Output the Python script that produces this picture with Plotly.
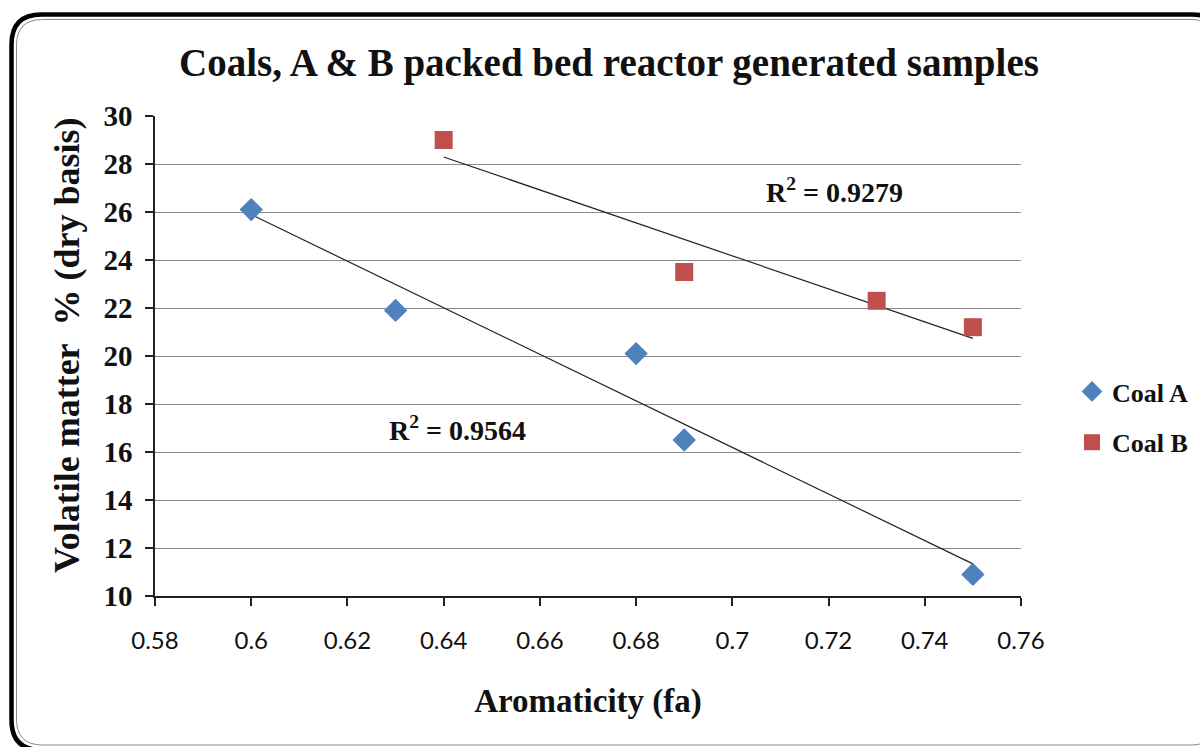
import numpy as np
import plotly.graph_objects as go

# Aromaticity (fa) and volatile matter (% dry basis) for each coal
coal_a_fa = [0.60, 0.63, 0.68, 0.69, 0.75]
coal_a_vm = [26.1, 21.9, 20.1, 16.5, 10.9]
coal_b_fa = [0.64, 0.69, 0.73, 0.75]
coal_b_vm = [29.0, 23.5, 22.3, 21.2]

r2_labels = {"Coal A": "R<sup>2</sup> = 0.9564", "Coal B": "R<sup>2</sup> = 0.9279"}

x_ticks = [0.58, 0.6, 0.62, 0.64, 0.66, 0.68, 0.7, 0.72, 0.74, 0.76]
y_ticks = list(range(10, 31, 2))

W, H = 1200, 747
ML, MR, MT, MB = 155, 179, 116, 151
PW, PH = W - ML - MR, H - MT - MB

SERIF = "Liberation Serif"
SANS = "Lato"


def trend(xs, ys):
    k, b = np.polyfit(xs, ys, 1)
    xe = np.array([min(xs), max(xs)])
    return xe, k * xe + b


fig = go.Figure()

for xs, ys in [(coal_a_fa, coal_a_vm), (coal_b_fa, coal_b_vm)]:
    tx, ty = trend(xs, ys)
    fig.add_trace(go.Scatter(x=tx, y=ty, mode="lines", showlegend=False,
                             line=dict(color="#222222", width=1.2), hoverinfo="skip"))

fig.add_trace(go.Scatter(x=coal_a_fa, y=coal_a_vm, mode="markers", name="Coal A",
                         legendgroup="a",
                         marker=dict(symbol="diamond", size=18, color="#4F81BD")))
fig.add_trace(go.Scatter(x=coal_b_fa, y=coal_b_vm, mode="markers", name="Coal B",
                         legendgroup="b",
                         marker=dict(symbol="square", size=18, color="#C0504D")))


def px(x):
    return (x - ML) / PW


def py(y):
    return (H - MB - y) / PH


def rounded_rect(x0, y0, x1, y1, r):
    pts = [
        f"M {px(x0 + r)} {py(y0)}",
        f"L {px(x1 - r)} {py(y0)}",
        f"Q {px(x1)} {py(y0)} {px(x1)} {py(y0 + r)}",
        f"L {px(x1)} {py(y1 - r)}",
        f"Q {px(x1)} {py(y1)} {px(x1 - r)} {py(y1)}",
        f"L {px(x0 + r)} {py(y1)}",
        f"Q {px(x0)} {py(y1)} {px(x0)} {py(y1 - r)}",
        f"L {px(x0)} {py(y0 + r)}",
        f"Q {px(x0)} {py(y0)} {px(x0 + r)} {py(y0)}",
        "Z",
    ]
    return " ".join(pts)


fig.add_shape(type="path", xref="paper", yref="paper",
              path=rounded_rect(11.5, 14.5, 1222, 750, 30),
              line=dict(color="#000000", width=4.5), layer="below")
fig.add_shape(type="path", xref="paper", yref="paper",
              path=rounded_rect(16.5, 19.5, 1217, 745, 26),
              line=dict(color="#8a8a8a", width=1), layer="below")

fig.add_annotation(x=0.7213, y=26.9, text=r2_labels["Coal B"], showarrow=False,
                   font=dict(family=SERIF, size=28, color="#111111", weight="bold"))
fig.add_annotation(x=0.6428, y=16.96, text=r2_labels["Coal A"], showarrow=False,
                   font=dict(family=SERIF, size=28, color="#111111", weight="bold"))

# Vertical axis title
fig.add_annotation(xref="paper", yref="paper", x=px(67), y=py(345),
                   text="Volatile matter&nbsp; % (dry basis)", textangle=-90,
                   showarrow=False, xanchor="center", yanchor="middle",
                   font=dict(family=SERIF, size=36, color="#111111", weight="bold"))

fig.update_layout(
    width=W, height=H,
    margin=dict(l=ML, r=MR, t=MT, b=MB, autoexpand=False),
    paper_bgcolor="white", plot_bgcolor="white",
    title=dict(text="Coals, A & B packed bed reactor generated samples",
               x=609 / W, xanchor="center", y=1 - 62 / H, yanchor="middle",
               font=dict(family=SERIF, size=39, color="#111111", weight="bold")),
    xaxis=dict(range=[0.58, 0.76], tickvals=x_ticks,
               ticktext=[f"{v:g}" for v in x_ticks],
               showgrid=False, zeroline=False,
               showline=True, linecolor="#222222", linewidth=1.5,
               ticks="outside", ticklen=8, tickcolor="#222222", tickwidth=1.5,
               ticklabelstandoff=14,
               tickfont=dict(family=SANS, size=24, color="#111111"),
               title=dict(text="Aromaticity (fa)", standoff=36,
                          font=dict(family=SERIF, size=33, color="#111111", weight="bold"))),
    yaxis=dict(range=[10, 30], tickvals=y_ticks,
               showgrid=True, gridcolor="#8c8c8c", gridwidth=1, zeroline=False,
               showline=True, linecolor="#222222", linewidth=1.5,
               ticks="outside", ticklen=8, tickcolor="#222222", tickwidth=1.5,
               ticklabelstandoff=7,
               tickfont=dict(family=SERIF, size=29, color="#111111", weight="bold")),
    legend=dict(x=(1072 - ML) / PW, xanchor="left", y=py(368), yanchor="top",
                tracegroupgap=14, itemwidth=30,
                font=dict(family=SERIF, size=26, color="#111111", weight="bold"),
                bgcolor="rgba(0,0,0,0)"),
    showlegend=True,
)

fig.write_html("out.html")
